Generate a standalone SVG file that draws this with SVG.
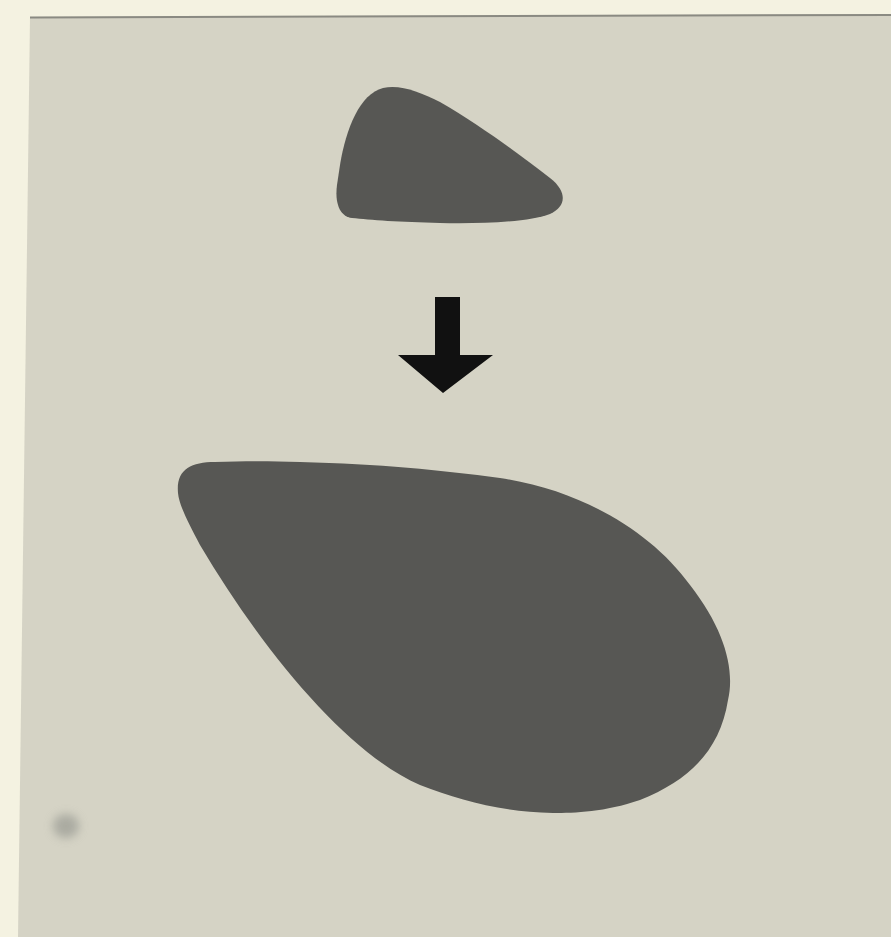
<svg xmlns="http://www.w3.org/2000/svg" width="891" height="937" viewBox="0 0 891 937">
  <style>
    .shape { fill: #575754; }
    .arrow { fill: #111111; }
  </style>
  <defs>
    <filter id="soft" x="-1" y="-1" width="3" height="3">
      <feGaussianBlur stdDeviation="5"/>
    </filter>
  </defs>
  <rect width="891" height="937" fill="#f4f2e1"/>
  <g id="panel">
    <polygon points="30,17 891,14 891,937 18,937" fill="#d5d3c5"/>
    <line x1="30" y1="17.5" x2="891" y2="15" stroke="#8a8a82" stroke-width="2"/>
    <ellipse cx="66" cy="826" rx="13" ry="12" fill="#8f918a" opacity="0.6" filter="url(#soft)"/>
  </g>
  <g id="small-shape">
    <path class="shape" d="M 340,165 C 346,128 360,94 383,88 C 400,84 420,92 440,102 C 480,125 520,155 550,178 C 568,192 566,207 550,214 C 530,222 480,224 440,223 C 400,222 370,220 352,218 C 338,216 335,200 337,185 Z"/>
  </g>
  <g id="connectors">
    <polygon class="arrow" points="435,297 460,297 460,355 493,355 443,393 398,355 435,355"/>
  </g>
  <g id="large-shape">
    <path class="shape" d="M 178,493 C 176,470 190,462 215,462 C 245,461 270,461 300,462 C 380,464 440,470 500,478 C 580,490 650,530 690,585 C 725,630 735,670 728,700 C 720,750 690,780 640,800 C 605,812 575,813 553,813 C 500,812 460,800 420,785 C 350,755 265,655 200,545 C 188,522 179,505 178,493 Z"/>
  </g>
</svg>
